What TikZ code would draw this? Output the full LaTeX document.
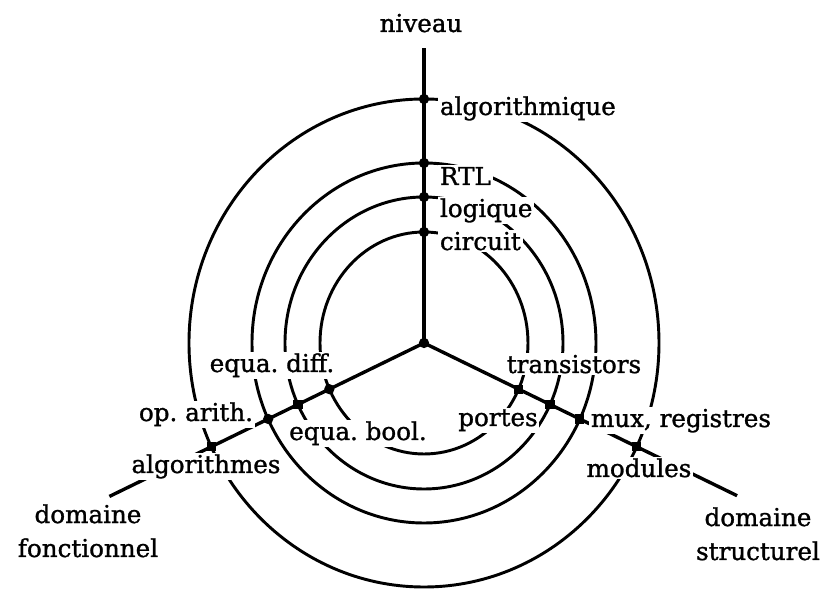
\documentclass[tikz,border=0pt]{standalone}
\usepackage{fontspec}
\setmainfont{DejaVu Serif}
\newfontfamily\labfont{DejaVu Serif}[FakeBold=1.2]
\usetikzlibrary{positioning}
\frenchspacing

\begin{document}
\begin{tikzpicture}[
  lvl/.style={line width=2.5pt},
  axe/.style={line width=2.9pt},
  lab/.style={font=\labfont\fontsize{21}{29}\selectfont, fill=white, inner sep=1.5pt},
  rdot/.style={circle, fill=black, inner sep=0pt, minimum size=0.31cm},
  sdot/.style={rectangle, fill=black, inner sep=0pt, minimum size=0.28cm},
]
\useasboundingbox (-12.72,-7.47) rectangle (12.09,10.29);

\coordinate (hub) at (0,0);

% levels
\draw[lvl] (hub) ellipse [x radius=3.12, y radius=3.33];
\draw[lvl] (hub) ellipse [x radius=4.17, y radius=4.38];
\draw[lvl] (hub) ellipse [x radius=5.16, y radius=5.40];
\draw[lvl] (hub) ellipse [x radius=7.05, y radius=7.32];

% axes
\coordinate (top)   at (90:8.85);
\coordinate (fonc)  at (206:10.5);
\coordinate (struc) at (334:10.45);
\draw[axe] (hub) -- (top);
\draw[axe] (hub) -- (fonc);
\draw[axe] (hub) -- (struc);

% labels
\node[lab, anchor=base]      (niv)    at (-0.09,9.33) {niveau};
\node[lab, anchor=base west] (lalgo)  at (0.42,6.84)  {algorithmique};
\node[lab, anchor=base west] (lrtl)   at (0.42,4.74)  {RTL};
\node[lab, anchor=base west] (llog)   at (0.42,3.78)  {logique};
\node[lab, anchor=base west] (lcirc)  at (0.42,2.79)  {circuit};
\node[lab, anchor=base] (ltrans)  at (4.50,-0.90)  {transistors};
\node[lab, anchor=base] (ldiff)   at (-4.56,-0.87) {equa. diff.};
\node[lab, anchor=base] (larith)  at (-6.84,-2.34) {op. arith.};
\node[lab, anchor=base] (lbool)   at (-1.98,-2.91) {equa. bool.};
\node[lab, anchor=base] (lalgos)  at (-6.54,-3.90) {algorithmes};
\node[lab, anchor=base] (lportes) at (2.22,-2.49)  {portes};
\node[lab, anchor=base] (lmux)    at (7.71,-2.52)  {mux, registres};
\node[lab, anchor=base] (lmod)    at (6.45,-4.02)  {modules};
\node[lab, anchor=base, align=center] (dfonc)  at (-10.08,-6.42) {domaine\\fonctionnel};
\node[lab, anchor=base, align=center] (dstruc) at (10.02,-6.51)  {domaine\\structurel};

% points on the axes
\node[rdot] (hubdot) at (hub) {};
\node[rdot] (v1) at (90:3.33) {};
\node[rdot] (v2) at (90:4.38) {};
\node[rdot] (v3) at (90:5.40) {};
\node[rdot] (v4) at (90:7.32) {};
\node[rdot] (f1) at (206:3.16) {};
\node[sdot] (f2) at (206:4.21) {};
\node[rdot] (f3) at (206:5.20) {};
\node[sdot] (f4) at (206:7.10) {};
\node[sdot] (s1) at (334:3.16) {};
\node[sdot] (s2) at (334:4.21) {};
\node[sdot] (s3) at (334:5.20) {};
\node[sdot] (s4) at (334:7.10) {};
\end{tikzpicture}
\end{document}
